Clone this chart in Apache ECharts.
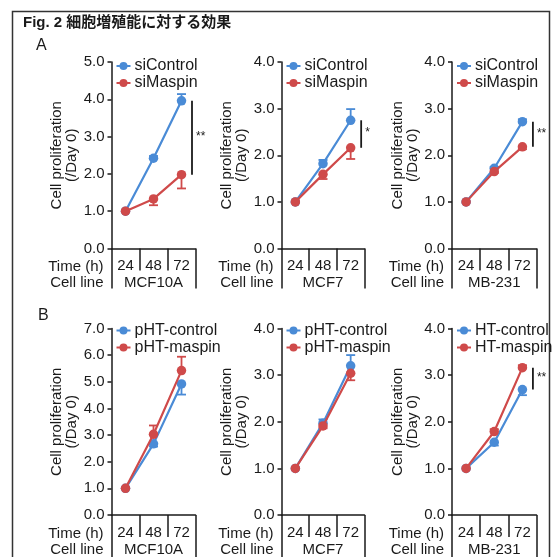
<!DOCTYPE html>
<html><head><meta charset="utf-8">
<script src="https://cdn.jsdelivr.net/npm/echarts@6/dist/echarts.min.js"></script>
<style>html,body{margin:0;padding:0;background:#fff}#c{width:554px;height:557px}</style>
</head><body><div id="c"></div>
<script>
// ---- data ----
const timeLabels = ['24', '48', '72'];
const titleText = 'Fig. 2 細胞増殖能に対する効果';
const panelLetters = ['A', 'B'];
const cellLines = ['MCF10A', 'MCF7', 'MB-231', 'MCF10A', 'MCF7', 'MB-231'];
const ctrlNames = ['siControl', 'siControl', 'siControl', 'pHT-control', 'pHT-control', 'HT-control'];
const maspNames = ['siMaspin', 'siMaspin', 'siMaspin', 'pHT-maspin', 'pHT-maspin', 'HT-maspin'];
const yMaxes = [5, 4, 4, 7, 4, 4];
// control series values and SEM
const ctrlA1 = [1.0, 2.42, 3.96], ctrlErrA1 = [0, 0.06, 0.18];
const maspA1 = [1.0, 1.33, 1.98], maspErrA1 = [0, 0.17, 0.37];
const ctrlA2 = [1.0, 1.82, 2.75], ctrlErrA2 = [0, 0.08, 0.24];
const maspA2 = [1.0, 1.59, 2.16], maspErrA2 = [0, 0.10, 0.24];
const ctrlA3 = [1.0, 1.72, 2.72], ctrlErrA3 = [0, 0.03, 0.05];
const maspA3 = [1.0, 1.65, 2.18], maspErrA3 = [0, 0.03, 0.05];
const ctrlB1 = [1.0, 2.67, 4.92], ctrlErrB1 = [0, 0.10, 0.40];
const maspB1 = [1.0, 3.03, 5.42], maspErrB1 = [0, 0.33, 0.52];
const ctrlB2 = [1.0, 1.97, 3.20], ctrlErrB2 = [0, 0.08, 0.23];
const maspB2 = [1.0, 1.91, 3.04], maspErrB2 = [0, 0.05, 0.15];
const ctrlB3 = [1.0, 1.56, 2.69], ctrlErrB3 = [0, 0.07, 0.12];
const maspB3 = [1.0, 1.79, 3.16], maspErrB3 = [0, 0.05, 0.05];
// error bar direction (+1 up, -1 down)
const ctrlErrDir = [1, 1, 1, -1, 1, -1];
const maspErrDir = [-1, -1, -1, 1, -1, 1];
// significance marks at 72 h ('' = none)
const sigMarks = ['**', '*', '**', '', '', '**'];

const ctrlVals = [ctrlA1, ctrlA2, ctrlA3, ctrlB1, ctrlB2, ctrlB3];
const ctrlErrs = [ctrlErrA1, ctrlErrA2, ctrlErrA3, ctrlErrB1, ctrlErrB2, ctrlErrB3];
const maspVals = [maspA1, maspA2, maspA3, maspB1, maspB2, maspB3];
const maspErrs = [maspErrA1, maspErrA2, maspErrA3, maspErrB1, maspErrB2, maspErrB3];

// ---- layout ----
const FONT = '"Liberation Sans", Arial, sans-serif';
const BLUE = '#4a8bd6', RED = '#cf4a4a', INK = '#1a1a1a';
const gridLefts = [111.5, 281.5, 452, 111.5, 281.5, 452];
const gridWidths = [84, 83, 84.5, 84, 83, 84.5];
const gridTops = [62, 62, 62, 328.5, 328.5, 328.5];
const gridH = 186.5;

const chart = echarts.init(document.getElementById('c'), null, {renderer: 'canvas'});

const grids = [], xAxes = [], yAxes = [], series = [], legends = [];

function errRender(color, dir) {
  return function (params, api) {
    const x = api.value(0), v = api.value(1), e = api.value(2);
    if (!e) return null;
    const p0 = api.coord([x, v]);
    const p1 = api.coord([x, v + dir * e]);
    return {
      type: 'group', children: [
        {type: 'line', shape: {x1: p0[0], y1: p0[1], x2: p1[0], y2: p1[1]}, style: {stroke: color, lineWidth: 1.8}},
        {type: 'line', shape: {x1: p1[0] - 4.5, y1: p1[1], x2: p1[0] + 4.5, y2: p1[1]}, style: {stroke: color, lineWidth: 1.8}}
      ]
    };
  };
}

for (let i = 0; i < 6; i++) {
  grids.push({left: gridLefts[i], top: gridTops[i], width: gridWidths[i], height: gridH});
  const isB = i >= 3;
  xAxes.push({
    type: 'category', gridIndex: i, data: timeLabels, boundaryGap: true, position: 'bottom',
    axisLine: {show: true, lineStyle: {color: INK, width: 1.5}},
    axisTick: {show: true, length: 22, lineStyle: {color: INK, width: 1.5}, interval: 0},
    axisLabel: {margin: 10, fontSize: 15, color: INK, fontFamily: FONT, interval: 0},
    name: 'Time (h)', nameLocation: 'start', nameGap: 8,
    nameTextStyle: {fontSize: 15, color: INK, fontFamily: FONT, align: 'right', verticalAlign: 'top', padding: [11, 0, 0, 0]}
  });
  xAxes.push({
    type: 'category', gridIndex: i, data: [cellLines[i]], boundaryGap: true, position: 'bottom',
    axisLine: {show: false},
    axisTick: {show: true, length: isB ? 50 : 40, lineStyle: {color: INK, width: 1.5}},
    axisLabel: {margin: 27, fontSize: 15, color: INK, fontFamily: FONT},
    name: 'Cell line', nameLocation: 'start', nameGap: 8,
    nameTextStyle: {fontSize: 15, color: INK, fontFamily: FONT, align: 'right', verticalAlign: 'top', padding: [27, 0, 0, 0]}
  });
  yAxes.push({
    type: 'value', gridIndex: i, min: 0, max: yMaxes[i], interval: 1,
    splitLine: {show: false},
    axisLine: {show: true, lineStyle: {color: INK, width: 1.5}},
    axisTick: {show: true, length: 4, lineStyle: {color: INK, width: 1.5}},
    axisLabel: {margin: 7, fontSize: 15, color: INK, fontFamily: FONT, formatter: v => v.toFixed(1)},
    name: 'Cell proliferation\n(/Day 0)', nameLocation: 'middle', nameGap: 32,
    nameTextStyle: {fontSize: 15, color: INK, fontFamily: FONT, lineHeight: 15}
  });
  const xi = i * 2;
  const lineCommon = {
    type: 'line', xAxisIndex: xi, yAxisIndex: i, symbol: 'circle', symbolSize: 9.5,
    animation: false, z: 3
  };
  series.push(Object.assign({}, lineCommon, {
    name: ctrlNames[i], data: ctrlVals[i], itemStyle: {color: BLUE}, lineStyle: {width: 2.2, color: BLUE}
  }));
  series.push(Object.assign({}, lineCommon, {
    name: maspNames[i], data: maspVals[i], itemStyle: {color: RED}, lineStyle: {width: 2.2, color: RED}, z: 4
  }));
  series.push({
    type: 'custom', xAxisIndex: xi, yAxisIndex: i, animation: false, silent: true, z: 2,
    renderItem: errRender(BLUE, ctrlErrDir[i]),
    data: ctrlVals[i].map((v, k) => [k, v, ctrlErrs[i][k]])
  });
  series.push({
    type: 'custom', xAxisIndex: xi, yAxisIndex: i, animation: false, silent: true, z: 2,
    renderItem: errRender(RED, maspErrDir[i]),
    data: maspVals[i].map((v, k) => [k, v, maspErrs[i][k]])
  });
  if (sigMarks[i]) {
    const last = timeLabels.length - 1;
    series.push({
      type: 'custom', xAxisIndex: xi, yAxisIndex: i, animation: false, silent: true, z: 5,
      renderItem: function (params, api) {
        const p1 = api.coord([api.value(0), api.value(1)]);
        const p2 = api.coord([api.value(0), api.value(2)]);
        const x = p1[0] + 10.5;
        return {
          type: 'group', children: [
            {type: 'line', shape: {x1: x, y1: p1[1], x2: x, y2: p2[1]}, style: {stroke: INK, lineWidth: 1.8}},
            {type: 'text', x: x + 4, y: (p1[1] + p2[1]) / 2 - 1, style: {text: sigMarks[i], fill: INK, font: '12px ' + FONT, textVerticalAlign: 'middle'}}
          ]
        };
      },
      data: [[last, ctrlVals[i][last], maspVals[i][last]]]
    });
  }
  legends.push({
    orient: 'vertical', left: gridLefts[i] + 4, top: gridTops[i] - (isB ? 6 : 4), itemGap: 1,
    itemWidth: 14, itemHeight: 10, padding: 0,
    data: [ctrlNames[i], maspNames[i]],
    textStyle: {fontSize: 16, color: INK, fontFamily: FONT, padding: [0, 0, 0, -1]},
    selectedMode: false
  });
}

chart.setOption({
  backgroundColor: '#fff',
  animation: false,
  grid: grids, xAxis: xAxes, yAxis: yAxes, series: series, legend: legends,
  graphic: [
    {type: 'rect', left: 10, top: 9, shape: {width: 537, height: 580}, style: {fill: 'none', stroke: '#333', lineWidth: 1.5}, z: 0},
    {type: 'text', left: 23, top: 15, style: {text: titleText, font: 'bold 15px "Liberation Sans", "Noto Sans CJK JP", sans-serif', fill: INK}},
    {type: 'text', left: 36, top: 38, style: {text: panelLetters[0], font: '16px ' + FONT, fill: INK}},
    {type: 'text', left: 38, top: 308, style: {text: panelLetters[1], font: '16px ' + FONT, fill: INK}}
  ]
});
</script>
</body></html>
